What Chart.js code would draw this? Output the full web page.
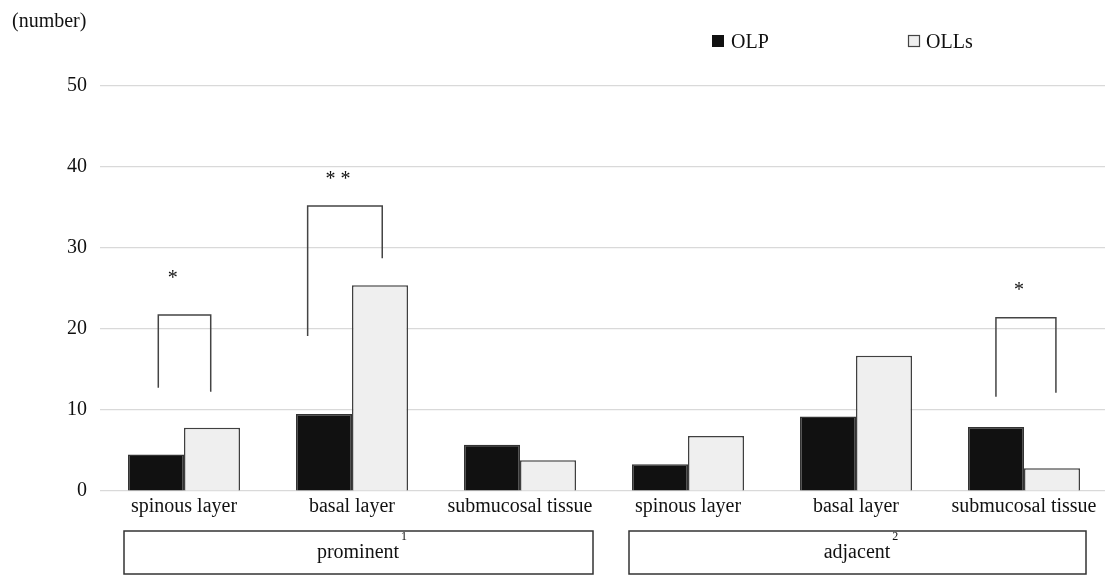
<!DOCTYPE html>
<html>
<head>
<meta charset="utf-8">
<script src="https://cdn.jsdelivr.net/npm/chart.js@4.4.1/dist/chart.umd.min.js"></script>
<style>
  html, body { margin: 0; padding: 0; background: #fff; overflow: hidden; }
  #wrap { width: 1108px; height: 577px; }
</style>
</head>
<body>
<div id="wrap"><canvas id="c" width="1108" height="577"></canvas></div>
<script>
// ---- data ----
const categories = ["spinous layer", "basal layer", "submucosal tissue", "spinous layer", "basal layer", "submucosal tissue"];
const olpValues  = [4.5, 9.5, 5.7, 3.3, 9.2, 7.9];
const ollsValues = [7.8, 25.4, 3.8, 6.8, 16.7, 2.8];
const yTicks = [0, 10, 20, 30, 40, 50];
const seriesNames = ["OLP", "OLLs"];
const groupNames = ["prominent", "adjacent"];
const groupNotes = ["1", "2"];
// significance brackets: [leftIndex, rightIndex, leftBottom, rightBottom, top]
const bracketX = [[-0.153, 0.159], [0.736, 1.180], [4.833, 5.190]];
const bracketY = [[12.75, 12.26, 21.73], [19.14, 28.73, 35.19], [11.64, 12.14, 21.4]];
const starText = ["*", "* *", "*"];
const starX = [-0.067, 0.916, 4.970];
const starY = [26.7, 38.9, 25.2];

const FONT = "'Liberation Serif', 'Times New Roman', serif";

const overlay = {
  id: 'overlay',
  afterDraw(chart) {
    const ctx = chart.ctx;
    const xs = chart.scales.x, ys = chart.scales.y;
    ctx.save();
    // axis unit label
    ctx.fillStyle = '#111';
    ctx.font = '20px ' + FONT;
    ctx.textAlign = 'left';
    ctx.textBaseline = 'middle';
    ctx.fillText('(number)', 12, 22);

    // legend
    ctx.fillStyle = '#111';
    ctx.fillRect(712, 35, 12, 12);
    ctx.fillStyle = '#111';
    ctx.textBaseline = 'alphabetic';
    ctx.fillText(seriesNames[0], 731, 48);
    ctx.fillStyle = '#efefef';
    ctx.fillRect(908, 35, 11, 11);
    ctx.strokeStyle = '#444';
    ctx.lineWidth = 1.2;
    ctx.strokeRect(908.5, 35.5, 11, 11);
    ctx.fillStyle = '#111';
    ctx.fillText(seriesNames[1], 926, 48);

    // brackets
    ctx.strokeStyle = '#444';
    ctx.lineWidth = 1.5;
    bracketX.forEach((bx, i) => {
      const x1 = xs.getPixelForValue(bx[0]);
      const x2 = xs.getPixelForValue(bx[1]);
      const yl = ys.getPixelForValue(bracketY[i][0]);
      const yr = ys.getPixelForValue(bracketY[i][1]);
      const yt = ys.getPixelForValue(bracketY[i][2]);
      ctx.beginPath();
      ctx.moveTo(x1, yl);
      ctx.lineTo(x1, yt);
      ctx.lineTo(x2, yt);
      ctx.lineTo(x2, yr);
      ctx.stroke();
    });
    // stars
    ctx.fillStyle = '#111';
    ctx.font = '20px ' + FONT;
    ctx.textAlign = 'center';
    ctx.textBaseline = 'middle';
    starText.forEach((s, i) => {
      ctx.fillText(s, xs.getPixelForValue(starX[i]), ys.getPixelForValue(starY[i]) + 4);
    });

    // group boxes
    const boxes = [
      [xs.getPixelForValue(0) - 60, xs.getPixelForValue(2) + 73],
      [xs.getPixelForValue(3) - 59, xs.getPixelForValue(5) + 62]
    ];
    const boxTop = 531, boxBottom = 574;
    ctx.strokeStyle = '#333';
    ctx.lineWidth = 1.5;
    boxes.forEach((b, i) => {
      ctx.strokeRect(b[0], boxTop, b[1] - b[0], boxBottom - boxTop);
      const cx = (i === 0) ? 358 : 857;
      ctx.font = '20px ' + FONT;
      ctx.textAlign = 'center';
      ctx.textBaseline = 'middle';
      ctx.fillStyle = '#111';
      ctx.fillText(groupNames[i], cx, 553);
      const w = ctx.measureText(groupNames[i]).width;
      ctx.font = '12px ' + FONT;
      ctx.textAlign = 'left';
      ctx.textBaseline = 'top';
      ctx.fillText(groupNotes[i], cx + w / 2 + 2, 531);
    });
    ctx.restore();
  }
};

new Chart(document.getElementById('c'), {
  type: 'bar',
  data: {
    labels: categories,
    datasets: [
      {
        label: seriesNames[0],
        data: olpValues,
        backgroundColor: '#111111',
        borderColor: '#333333',
        borderWidth: 1.5,
        borderSkipped: 'bottom'
      },
      {
        label: seriesNames[1],
        data: ollsValues,
        backgroundColor: '#efefef',
        borderColor: '#404040',
        borderWidth: 1.5,
        borderSkipped: 'bottom'
      }
    ]
  },
  options: {
    responsive: false,
    animation: false,
    devicePixelRatio: 1,
    layout: { padding: { top: 86, right: 0, bottom: 0, left: 0 } },
    plugins: {
      legend: { display: false },
      tooltip: { enabled: false }
    },
    datasets: {
      bar: { barPercentage: 1.0, categoryPercentage: 0.6667 }
    },
    scales: {
      x: {
        grid: { display: false, drawTicks: false },
        border: { display: false },
        ticks: {
          color: '#111',
          font: { family: FONT, size: 20 },
          padding: 4,
          maxRotation: 0,
          autoSkip: false
        },
        afterFit(s) { s.height = 86; }
      },
      y: {
        min: 0,
        max: 50,
        afterBuildTicks(s) { s.ticks = yTicks.map(v => ({ value: v })); },
        grid: { color: '#d9d9d9', lineWidth: 1.2, drawTicks: false },
        border: { display: false },
        ticks: {
          color: '#111',
          font: { family: FONT, size: 20 },
          padding: 13
        },
        afterFit(s) { s.width = 100; }
      }
    }
  },
  plugins: [overlay]
});
</script>
</body>
</html>
